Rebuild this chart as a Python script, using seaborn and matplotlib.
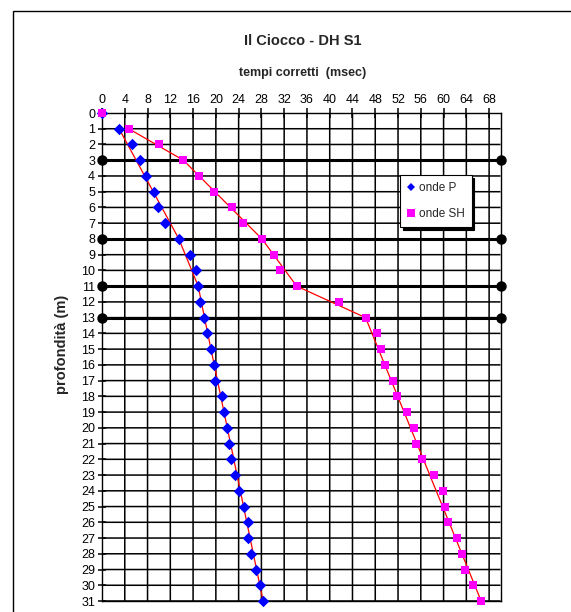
import matplotlib
matplotlib.use("Agg")
import matplotlib.pyplot as plt
from matplotlib.lines import Line2D
from matplotlib.patches import Rectangle
import seaborn as sns
import pandas as pd

# ---------------- data ----------------
depth = list(range(0, 32))
onde_P = [0, 3.0, 5.2, 6.6, 7.8, 9.1, 9.8, 11.0, 13.5, 15.5, 16.5, 16.9, 17.3, 18.0,
          18.5, 19.2, 19.7, 19.9, 21.1, 21.4, 21.9, 22.3, 22.6, 23.3, 24.0, 25.0,
          25.7, 25.7, 26.1, 27.1, 27.7, 28.3]
onde_SH = [0, 4.7, 10.0, 14.3, 17.0, 19.6, 22.8, 24.7, 28.1, 30.2, 31.2, 34.2, 41.7,
           46.3, 48.3, 49.0, 49.7, 51.1, 51.8, 53.6, 54.8, 55.2, 56.2, 58.3, 59.9,
           60.2, 60.8, 62.4, 63.3, 63.7, 65.1, 66.6]
fit_depth = [1, 3, 8, 11, 13, 31]
fit_P = [3.0, 6.0, 13.5, 16.9, 18.0, 28.3]
fit_SH = [4.7, 14.3, 28.1, 34.2, 46.3, 66.6]
layer_bounds = [3, 8, 11, 13]
x_ticks = list(range(0, 69, 4))
y_ticks = list(range(0, 32))

title = "Il Ciocco - DH S1"
x_title = "tempi corretti  (msec)"
y_title = "profondità (m)"

# ---------------- style ----------------
sns.set_theme(style="white")
plt.rcParams["font.family"] = ["Liberation Sans", "DejaVu Sans"]

W, H = 571, 612
X_MAX, Y_MAX = 70, 31
fig = plt.figure(figsize=(W / 100, H / 100), dpi=100)
fig.patch.set_facecolor("white")
ax = fig.add_axes([102 / W, 1 - 601 / H, (500.5 - 102) / W, (601 - 113) / H])
ax.patch.set_visible(False)

# outer chart border (cropped at right and bottom)
fig.add_artist(Rectangle((13 / W, -0.05), 1.0, (1 - 11 / H) + 0.05,
                         transform=fig.transFigure, fill=False,
                         edgecolor="black", linewidth=1.0, zorder=0))

# grid lines
vg = ax.vlines(x_ticks, 0, Y_MAX, colors="black", linewidth=1.1, zorder=1.5)
hg = ax.hlines(y_ticks, 0, X_MAX, colors="black", linewidth=1.1, zorder=1.5)
vg.set_snap(False)
hg.set_snap(False)

# tick marks
tx, = ax.plot(x_ticks, [0] * len(x_ticks), linestyle="none", marker="|",
              markersize=7, markeredgewidth=1.1, color="black", clip_on=False,
              zorder=1.6)
ty, = ax.plot([0] * len(y_ticks), y_ticks, linestyle="none", marker="_",
              markersize=6, markeredgewidth=1.1, color="black", clip_on=False,
              zorder=1.6)
tx.set_snap(False)
ty.set_snap(False)

# thick layer boundaries with end dots
for b in layer_bounds:
    ax.plot([0, X_MAX], [b, b], color="black", linewidth=2.2, marker="o",
            markersize=6.5, clip_on=False, zorder=2.8)

# red interpretation lines
df_fit = pd.DataFrame({"depth": fit_depth, "P": fit_P, "SH": fit_SH})
sns.lineplot(data=df_fit, x="P", y="depth", sort=False, estimator=None,
             color="#FF0000", linewidth=0.9, ax=ax, zorder=3)
sns.lineplot(data=df_fit, x="SH", y="depth", sort=False, estimator=None,
             color="#FF0000", linewidth=0.9, ax=ax, zorder=3)

df = pd.DataFrame({"depth": depth, "P": onde_P, "SH": onde_SH})
sns.scatterplot(data=df, x="P", y="depth", marker="D", s=34, color="#0000FF",
                linewidth=0, ax=ax, zorder=4)
sns.scatterplot(data=df, x="SH", y="depth", marker="s", s=38, color="#FF00FF",
                linewidth=0, ax=ax, zorder=5)
for coll in ax.collections[2:]:
    coll.set_clip_on(False)

ax.set_xlabel("")
ax.set_ylabel("")
ax.set_xlim(0, X_MAX)
ax.set_ylim(Y_MAX, 0)
ax.set_xticks(x_ticks)
ax.set_yticks(y_ticks)
ax.xaxis.tick_top()
ax.tick_params(axis="x", which="both", top=True, bottom=False,
               length=0, labelsize=9, pad=5, labelcolor="black")
ax.tick_params(axis="y", which="both", left=True, length=0,
               labelsize=9, pad=5, labelcolor="black")
for s in ax.spines.values():
    s.set_visible(True)
    s.set_color("black")
    s.set_linewidth(1.0)

# titles
fig.text(303 / W, 1 - 41 / H, title, ha="center", va="center",
         fontsize=10.5, fontweight="bold")
fig.text(303 / W, 1 - 73 / H, x_title, ha="center", va="center",
         fontsize=9, fontweight="bold")
fig.text(62 / W, 1 - 344 / H, y_title, ha="center", va="center",
         rotation=90, fontsize=10.5, fontweight="bold")

# legend
handles = [
    Line2D([], [], linestyle="none", marker="D", markersize=4.2,
           markerfacecolor="#0000FF", markeredgewidth=0),
    Line2D([], [], linestyle="none", marker="s", markersize=5.5,
           markerfacecolor="#FF00FF", markeredgewidth=0),
]
leg = ax.legend(handles, ["onde P", "onde SH"], loc="upper left",
                bbox_to_anchor=((400 - 102) / 398.5, 1 - (175 - 113) / 488),
                frameon=True, fancybox=False, shadow={"color": "black", "alpha": 1},
                framealpha=1, edgecolor="black", fontsize=8.5, handlelength=0.7,
                handletextpad=0.3, labelspacing=1.2, borderpad=0.6,
                borderaxespad=0)
leg.get_frame().set_linewidth(0.8)
leg.set_zorder(10)

fig.savefig("out.png", dpi=100)
